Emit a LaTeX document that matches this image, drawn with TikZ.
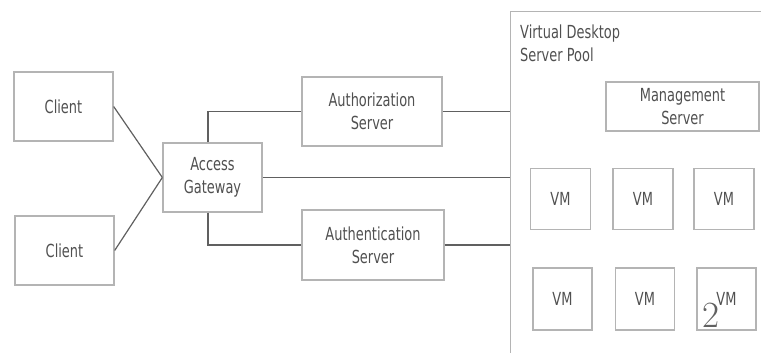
\documentclass[tikz,border=0pt]{standalone}
\usepackage{fontspec}
\setmainfont{DejaVu Sans}[FakeStretch=0.72]
\newfontfamily\lmroman{Latin Modern Roman}
\usepackage{xcolor}
\usetikzlibrary{calc}

\definecolor{boxgray}{HTML}{B4B4B4}
\definecolor{txtgray}{HTML}{505050}
\definecolor{wiregray}{HTML}{606060}

\tikzset{
	box/.style={draw=boxgray, line width=1.3pt, text=txtgray, align=center, inner sep=0pt,
		font=\fontsize{18}{23}\selectfont},
	wire/.style={draw=wiregray, line width=1.2pt},
}

\begin{document}
\begin{tikzpicture}[x=1pt,y=-1pt]
			\useasboundingbox (0,0) rectangle (761,353);
			\clip (0,0) rectangle (761,353);
			% left side
			\node[box, minimum width=99, minimum height=69] (client1) at (63.5,106.5) {Client};
			\node[box, minimum width=99, minimum height=69] (client2) at (64.5,250.5) {Client};
			\node[box, minimum width=99, minimum height=69] (gateway) at (212.5,177.5) {Access\\Gateway};
			\node[box, minimum width=140, minimum height=69] (authz) at (372,111.5) {Authorization\\Server};
			\node[box, minimum width=142, minimum height=70] (authn) at (373,245) {Authentication\\Server};
			% server pool
			\node[box, anchor=north west, minimum width=270, minimum height=360] (pool) at (510,11) {};
			\node[text=txtgray, anchor=north west, align=left, inner sep=0pt,
				font=\fontsize{18}{23}\selectfont] (pooltitle) at (520,25) {Virtual Desktop\\Server Pool};
			\node[box, minimum width=153, minimum height=49] (mgmt) at (682.5,106.5) {Management\\Server};
			\foreach \x/\n in {560.5/1,643/2,724/3}
				\node[box, minimum width=60, minimum height=61] (vm\n) at (\x,199) {VM};
			\foreach \x/\n in {562.5/4,645/5,726.5/6}
				\node[box, minimum width=59, minimum height=62] (vm\n) at (\x,299) {VM};
			\node[text=txtgray!90, font=\fontsize{37}{40}\selectfont\lmroman, inner sep=0pt] (pagenum) at (711,315) {2};
			% connectors
			\draw[wire] (client1.east) -- (gateway.west);
			\draw[wire] (client2.east) -- (gateway.west);
			\draw[wire] (gateway.east) -- (gateway.east -| pool.west);
			\draw[wire] ($(gateway.north)+(-4.5,0)$) |- (authz.west);
			\draw[wire] ($(gateway.south)+(-4.5,0)$) |- (authn.west);
			\draw[wire] (authz.east) -- (authz.east -| pool.west);
			\draw[wire] (authn.east) -- (authn.east -| pool.west);
		\end{tikzpicture}
\end{document}
